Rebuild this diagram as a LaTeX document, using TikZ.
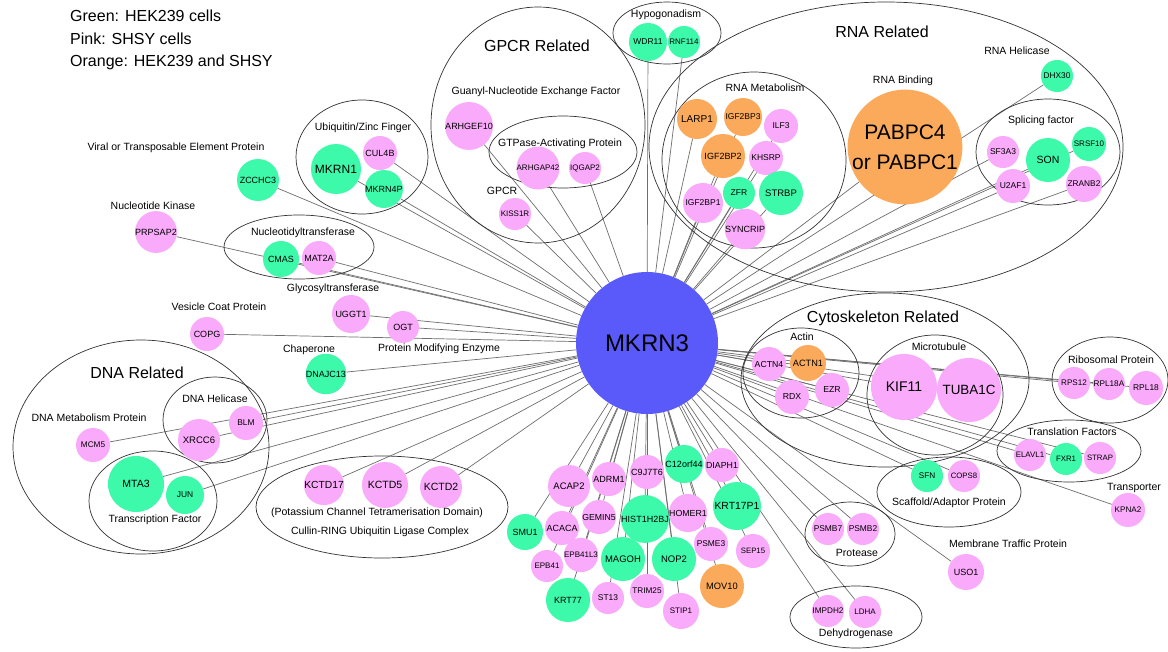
\documentclass[tikz,border=0pt]{standalone}
\usepackage{fontspec}
\setmainfont{Liberation Sans}
\usetikzlibrary{backgrounds}
\definecolor{cgreen}{RGB}{60,250,170}
\definecolor{cpink}{RGB}{250,170,250}
\definecolor{corange}{RGB}{250,170,90}
\definecolor{cblue}{RGB}{90,90,250}
\definecolor{cedge}{RGB}{110,110,110}
\definecolor{cring}{RGB}{50,50,50}
\tikzset{
  protnode/.style={circle,draw=none,inner sep=0pt,text=black},
  gnd/.style={protnode,fill=cgreen},
  pnd/.style={protnode,fill=cpink},
  ond/.style={protnode,fill=corange},
  sublab/.style={inner sep=0pt,font=\fontsize{10.5pt}{12pt}\selectfont},
  catlab/.style={inner sep=0pt,font=\fontsize{16pt}{18pt}\selectfont},
  leglab/.style={inner sep=0pt,anchor=west,font=\fontsize{16pt}{18pt}\selectfont},
  lnk/.style={draw=cedge,line width=0.7pt},
  grp/.style={draw=cring,line width=0.7pt}
}
\newcommand\mkp[7]{\node[#6,minimum size={2*#4pt},font=\fontsize{#5pt}{#5pt}\selectfont] (#1) at (#2,#3) {#7};}
\begin{document}
\begin{tikzpicture}[x=1pt,y=-1pt]
\useasboundingbox (0,0) rectangle (1168,651);
% group ellipses
\draw[grp] (362,157) ellipse [x radius=66pt, y radius=57pt];
\draw[grp] (538,125) ellipse [x radius=107pt, y radius=118pt];
\draw[grp] (563,152) ellipse [x radius=74pt, y radius=36pt];
\draw[grp] (667,33) ellipse [x radius=54pt, y radius=31pt];
\draw[grp] (886,147) ellipse [x radius=237pt, y radius=145pt];
\draw[grp] (754,160) ellipse [x radius=92pt, y radius=88pt];
\draw[grp] (1048,152) ellipse [x radius=72pt, y radius=53pt];
\draw[grp] (299,247) ellipse [x radius=75pt, y radius=32pt];
\draw[grp] (141,447) ellipse [x radius=128pt, y radius=107pt];
\draw[grp] (215,420) ellipse [x radius=52pt, y radius=43pt];
\draw[grp] (153,501) ellipse [x radius=64pt, y radius=50pt];
\draw[grp] (382,507) ellipse [x radius=126pt, y radius=51pt];
\draw[grp] (885,380) ellipse [x radius=144pt, y radius=87pt];
\draw[grp] (801,373) ellipse [x radius=58pt, y radius=45pt];
\draw[grp] (935,395) ellipse [x radius=68pt, y radius=60pt];
\draw[grp] (1110,380) ellipse [x radius=58pt, y radius=43pt];
\draw[grp] (1069,451) ellipse [x radius=72pt, y radius=31pt];
\draw[grp] (949,492) ellipse [x radius=72pt, y radius=35pt];
\draw[grp] (850,534) ellipse [x radius=45pt, y radius=32pt];
\draw[grp] (856,617) ellipse [x radius=66pt, y radius=31pt];
% hub
\node[protnode,fill=cblue,minimum size=142pt,font=\fontsize{24pt}{24pt}\selectfont] (MKRN3) at (647,343) {MKRN3};
% proteins
\mkp{ZCCHC3}{258}{180}{21}{9}{gnd}{ZCCHC3}
\mkp{MKRN1}{336}{169}{25}{12}{gnd}{MKRN1}
\mkp{CUL4B}{380}{153}{17}{9}{pnd}{CUL4B}
\mkp{MKRN4P}{384}{189}{18}{9}{gnd}{MKRN4P}
\mkp{ARHGEF10}{469}{126}{21}{9}{pnd}{ARHGEF10}
\mkp{ARHGAP42}{538}{168}{16}{8}{pnd}{ARHGAP42}
\mkp{IQGAP2}{585}{168}{16}{8}{pnd}{IQGAP2}
\mkp{KISS1R}{515}{214}{16}{8}{pnd}{KISS1R}
\mkp{WDR11}{648}{42}{19}{8.5}{gnd}{WDR11}
\mkp{RNF114}{684}{42}{16}{8}{gnd}{RNF114}
\mkp{LARP1}{697}{119}{20}{10}{ond}{LARP1}
\mkp{IGF2BP3}{743}{117}{19}{8.5}{ond}{IGF2BP3}
\mkp{ILF3}{781}{126}{17}{8.5}{pnd}{ILF3}
\mkp{IGF2BP2}{723}{156}{22}{9}{ond}{IGF2BP2}
\mkp{KHSRP}{766}{158}{17}{8.5}{pnd}{KHSRP}
\mkp{ZFR}{739}{193}{16}{8.5}{gnd}{ZFR}
\mkp{STRBP}{781}{193}{22}{9.5}{gnd}{STRBP}
\mkp{IGF2BP1}{703}{203}{20}{8.5}{pnd}{IGF2BP1}
\mkp{SYNCRIP}{745}{229}{18}{9}{pnd}{SYNCRIP}
\mkp{DHX30}{1057}{76}{16}{8.3}{gnd}{DHX30}
\node[ond,minimum size=114pt,align=center,font=\fontsize{21pt}{30pt}\selectfont] (PABPC) at (905,147) {PABPC4\\or PABPC1};
\mkp{SF3A3}{1003}{152}{16}{8.5}{pnd}{SF3A3}
\mkp{SON}{1048}{160}{22}{10.5}{gnd}{SON}
\mkp{SRSF10}{1089}{144}{17}{8}{gnd}{SRSF10}
\mkp{U2AF1}{1013}{186}{17}{8.5}{pnd}{U2AF1}
\mkp{ZRANB2}{1084}{184}{18}{8.3}{pnd}{ZRANB2}
\mkp{PRPSAP2}{156}{232}{18}{9}{pnd}{PRPSAP2}
\mkp{CMAS}{281}{259}{18}{9}{gnd}{CMAS}
\mkp{MAT2A}{319}{258}{17}{9}{pnd}{MAT2A}
\mkp{COPG}{207}{334}{17}{9}{pnd}{COPG}
\mkp{UGGT1}{351}{314}{19}{9}{pnd}{UGGT1}
\mkp{OGT}{403}{327}{16}{9}{pnd}{OGT}
\mkp{DNAJC13}{326}{374}{17}{9}{gnd}{DNAJC13}
\mkp{BLM}{246}{423}{17}{8.4}{pnd}{BLM}
\mkp{XRCC6}{199}{440}{21}{9.5}{pnd}{XRCC6}
\mkp{MCM5}{93}{445}{17}{8.2}{pnd}{MCM5}
\mkp{MTA3}{136}{484}{28}{10.5}{gnd}{MTA3}
\mkp{JUN}{185}{495}{19}{8.4}{gnd}{JUN}
\mkp{KCTD17}{324}{485}{20}{10.3}{pnd}{KCTD17}
\mkp{KCTD5}{385}{485}{23}{10.5}{pnd}{KCTD5}
\mkp{KCTD2}{441}{487}{21}{10.5}{pnd}{KCTD2}
\mkp{ACAP2}{569}{486}{21}{9.5}{pnd}{ACAP2}
\mkp{SMU1}{525}{532}{18}{9}{gnd}{SMU1}
\mkp{ACACA}{562}{528}{17}{9}{pnd}{ACACA}
\mkp{EPB41}{547}{566}{16}{8}{pnd}{EPB41}
\mkp{EPB41L3}{581}{555}{16}{8}{pnd}{EPB41L3}
\mkp{KRT77}{568}{600}{22}{9}{gnd}{KRT77}
\mkp{ADRM1}{609}{479}{17}{9}{pnd}{ADRM1}
\mkp{C9J7T6}{647}{472}{17}{9}{pnd}{C9J7T6}
\mkp{C12orf44}{684}{464}{19}{9}{gnd}{C12orf44}
\mkp{DIAPH1}{722}{465}{17}{8.8}{pnd}{DIAPH1}
\mkp{GEMIN5}{599}{517}{17}{8.7}{pnd}{GEMIN5}
\mkp{HIST1H2BJ}{645}{519}{17}{9}{gnd}{HIST1H2BJ}
\mkp{HOMER1}{688}{513}{17}{8.8}{pnd}{HOMER1}
\mkp{KRT17P1}{737}{506}{24}{10.4}{gnd}{KRT17P1}
\mkp{PSME3}{711}{544}{17}{8.4}{pnd}{PSME3}
\mkp{SEP15}{753}{551}{17}{7.8}{pnd}{SEP15}
\mkp{MAGOH}{623}{559}{22}{9.5}{gnd}{MAGOH}
\mkp{NOP2}{674}{559}{22}{9.5}{gnd}{NOP2}
\mkp{MOV10}{722}{586}{22}{9.3}{ond}{MOV10}
\mkp{ST13}{608}{598}{16}{8.4}{pnd}{ST13}
\mkp{TRIM25}{647}{591}{17}{8.2}{pnd}{TRIM25}
\mkp{STIP1}{681}{611}{18}{8}{pnd}{STIP1}
\mkp{PSMB7}{828}{529}{16}{8.4}{pnd}{PSMB7}
\mkp{PSMB2}{863}{529}{16}{8.4}{pnd}{PSMB2}
\mkp{IMPDH2}{828}{611}{16}{8.2}{pnd}{IMPDH2}
\mkp{LDHA}{865}{612}{16}{8}{pnd}{LDHA}
\mkp{USO1}{966}{572}{18}{9}{pnd}{USO1}
\mkp{SFN}{927}{476}{16}{8.2}{gnd}{SFN}
\mkp{COPS8}{964}{476}{16}{7.8}{pnd}{COPS8}
\mkp{ELAVL1}{1030}{455}{16}{7.9}{pnd}{ELAVL1}
\mkp{FXR1}{1066}{459}{16}{7.8}{gnd}{FXR1}
\mkp{STRAP}{1100}{458}{16}{7.8}{pnd}{STRAP}
\mkp{KPNA2}{1128}{510}{17}{8.1}{pnd}{KPNA2}
\mkp{ACTN4}{769}{364}{17}{8.7}{pnd}{ACTN4}
\mkp{ACTN1}{808}{363}{18}{9.2}{ond}{ACTN1}
\mkp{RDX}{792}{397}{17}{8.7}{pnd}{RDX}
\mkp{EZR}{832}{390}{17}{8.7}{pnd}{EZR}
\mkp{KIF11}{904}{387}{33}{14}{pnd}{KIF11}
\mkp{TUBA1C}{969}{390}{32}{13.4}{pnd}{TUBA1C}
\mkp{RPS12}{1074}{383}{16}{8.1}{pnd}{RPS12}
\mkp{RPL18A}{1109}{384}{16}{8.2}{pnd}{RPL18A}
\mkp{RPL18}{1146}{388}{17}{8.4}{pnd}{RPL18}
% connectors (behind everything)
\begin{scope}[on background layer]
\fill[white] (0,0) rectangle (1168,651);
\foreach \n in {ZCCHC3,MKRN1,CUL4B,MKRN4P,ARHGEF10,ARHGAP42,IQGAP2,KISS1R,WDR11,RNF114,%
LARP1,IGF2BP3,ILF3,IGF2BP2,KHSRP,ZFR,STRBP,IGF2BP1,SYNCRIP,DHX30,PABPC,SF3A3,SON,SRSF10,%
U2AF1,ZRANB2,PRPSAP2,CMAS,MAT2A,COPG,UGGT1,OGT,DNAJC13,BLM,XRCC6,MCM5,MTA3,JUN,KCTD17,%
KCTD5,KCTD2,ACAP2,SMU1,ACACA,EPB41,EPB41L3,KRT77,ADRM1,C9J7T6,C12orf44,DIAPH1,GEMIN5,%
HIST1H2BJ,HOMER1,KRT17P1,PSME3,SEP15,MAGOH,NOP2,MOV10,ST13,TRIM25,STIP1,PSMB7,PSMB2,%
IMPDH2,LDHA,USO1,SFN,COPS8,ELAVL1,FXR1,STRAP,KPNA2,ACTN4,ACTN1,RDX,EZR,KIF11,TUBA1C,%
RPS12,RPL18A,RPL18}
  \draw[lnk] (MKRN3) -- (\n);
\end{scope}
% legend
\node[leglab] (leg1) at (70,16) {Green: HEK239 cells};
\node[leglab] (leg2) at (70,39) {Pink: SHSY cells};
\node[leglab] (leg3) at (70,62) {Orange: HEK239 and SHSY};
% category labels
\node[catlab] (tGPCR) at (537,46) {GPCR Related};
\node[catlab] (tRNA) at (882,32) {RNA Related};
\node[catlab] (tDNA) at (137,373) {DNA Related};
\node[catlab] (tCyto) at (883,318) {Cytoskeleton Related};
% sub labels
\node[sublab] (sViral) at (176,148) {Viral or Transposable Element Protein};
\node[sublab] (sNK) at (153,206) {Nucleotide Kinase};
\node[sublab] (sNTT) at (303,233) {Nucleotidyltransferase};
\node[sublab] (sGlyco) at (333,289) {Glycosyltransferase};
\node[sublab] (sVCP) at (219,307) {Vesicle Coat Protein};
\node[sublab] (sChap) at (309,350) {Chaperone};
\node[sublab] (sPME) at (439,349) {Protein Modifying Enzyme};
\node[sublab] (sDNAHel) at (215,399) {DNA Helicase};
\node[sublab] (sDNAMet) at (89,418) {DNA Metabolism Protein};
\node[sublab] (sTF) at (155,520) {Transcription Factor};
\node[sublab] (sKCTD) at (377,513) {(Potassium Channel Tetramerisation Domain)};
\node[sublab] (sCullin) at (380,532) {Cullin-RING Ubiquitin Ligase Complex};
\node[sublab] (sUbi) at (363,128) {Ubiquitin/Zinc Finger};
\node[sublab] (sGNEF) at (536,92) {Guanyl-Nucleotide Exchange Factor};
\node[sublab] (sGAP) at (560,144) {GTPase-Activating Protein};
\node[sublab] (sGPCR) at (502,191) {GPCR};
\node[sublab] (sHypo) at (666,15) {Hypogonadism};
\node[sublab] (sRNAMet) at (765,88) {RNA Metabolism};
\node[sublab] (sRNABind) at (903,81) {RNA Binding};
\node[sublab] (sRNAHel) at (1017,51) {RNA Helicase};
\node[sublab] (sSplice) at (1041,121) {Splicing factor};
\node[sublab] (sActin) at (802,337) {Actin};
\node[sublab] (sMicro) at (939,347) {Microtubule};
\node[sublab] (sRibo) at (1111,360) {Ribosomal Protein};
\node[sublab] (sTrans) at (1072,432) {Translation Factors};
\node[sublab] (sTransp) at (1134,488) {Transporter};
\node[sublab] (sScaf) at (949,503) {Scaffold/Adaptor Protein};
\node[sublab] (sMTP) at (1008,544) {Membrane Traffic Protein};
\node[sublab] (sProt) at (857,553) {Protease};
\node[sublab] (sDehyd) at (856,634) {Dehydrogenase};
\end{tikzpicture}
\end{document}
